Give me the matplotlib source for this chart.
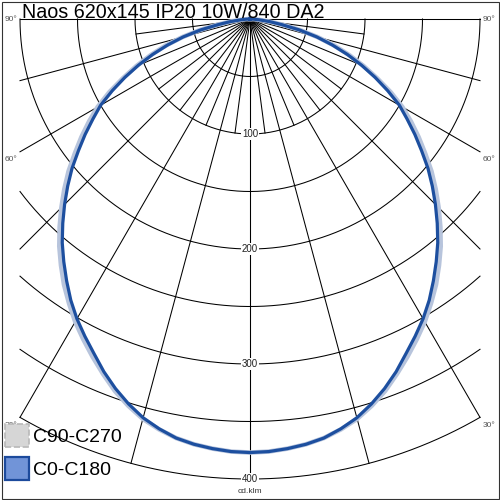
"""Polar luminous intensity diagram (LDC) for Naos 620x145 IP20 10W/840 DA2."""

import numpy as np
import matplotlib
matplotlib.use("Agg")
import matplotlib.pyplot as plt
from matplotlib.patches import Patch, Rectangle

plt.rcParams["font.family"] = ["Liberation Sans", "DejaVu Sans"]

TITLE = "Naos 620x145 IP20 10W/840 DA2"
UNIT = "cd.klm"

# gamma angle from nadir (deg) and intensity (cd/klm)
gamma = [0, 2.5, 5, 7.5, 10, 12.5, 15, 17.5, 20, 22.5, 25, 27.5, 30, 32.5, 35,
         37.5, 40, 42.5, 45, 47.5, 50, 52.5, 55, 57.5, 60, 62.5, 65, 67.5, 70,
         72.5, 75, 77.5, 80, 82.5, 85, 87.5, 90]
c0_c180 = [377, 376.5, 375, 373, 370, 365, 359, 351, 342, 332, 321, 311, 301,
           290, 278, 266, 254, 241, 228, 215, 202, 188, 175, 162, 150, 135, 120,
           105, 90, 75, 60, 44, 28, 17, 8, 3, 0]
c90_c270 = [377, 376.5, 375, 373, 370, 365.5, 360, 352.5, 344, 334, 324, 314,
            304, 293, 282, 270, 258, 245, 232, 219, 206, 192, 179, 166, 153, 138,
            122, 107, 92, 77, 61, 45, 29, 17, 8, 3, 0]

ring_values  = [50, 100, 150, 200, 250, 300, 350, 400]
ring_labels  = [100, 200, 300, 400]
major_angles = [0, 15, 30, 45, 60, 75, 90]
minor_angles = [7.5, 22.5, 37.5, 52.5, 67.5, 82.5]
angle_labels = [90, 60, 30]

R_MAX  = 400      # outer ring
X_HALF = 200      # side limit of the grid (cd/klm)
PX     = 1.15     # pixels per cd/klm

fig = plt.figure(figsize=(5, 5), dpi=100)
ax = fig.add_axes([0, 0, 1, 1])
ax.set_xlim(-250 / PX, 250 / PX)
ax.set_ylim((19 - 500) / PX, 19 / PX)
ax.axis("off")

GRID = dict(color="black", lw=0.75, zorder=1)

# ── rings, clipped to |x| <= 200 ─────────────────────────────────────────────
for R in ring_values:
    gmax = 90.0 if R <= X_HALF else np.degrees(np.arcsin(X_HALF / R))
    t = np.radians(np.linspace(-gmax, gmax, 400))
    ax.plot(R * np.sin(t), -R * np.cos(t), **GRID)

# ── rays ─────────────────────────────────────────────────────────────────────
def ray_end(g):
    s = np.sin(np.radians(abs(g)))
    return R_MAX if s == 0 else min(R_MAX, X_HALF / s)

for g in major_angles:
    for sgn in (-1, 1):
        r = ray_end(g)
        t = np.radians(sgn * g)
        ax.plot([0, r * np.sin(t)], [0, -r * np.cos(t)], **GRID)

for g in minor_angles:
    for sgn in (-1, 1):
        t = np.radians(sgn * g)
        ax.plot([0, 100 * np.sin(t)], [0, -100 * np.cos(t)], **GRID)

# ── labels ───────────────────────────────────────────────────────────────────
for v in ring_labels:
    ax.text(0, -v, str(v), ha="center", va="center", fontsize=7, color="#222222",
            zorder=3, bbox=dict(facecolor="white", edgecolor="none", pad=0.6))
ax.annotate(UNIT, (0, -R_MAX), xytext=(0, -9), textcoords="offset points",
            ha="center", va="center", fontsize=6, color="#333333")

for g in angle_labels:
    r = ray_end(g)
    t = np.radians(g)
    y = -r * np.cos(t)
    dy = 0 if g == 90 else -5.5
    ax.annotate(f"{g}°", (-X_HALF, y), xytext=(-2, dy), textcoords="offset points",
                ha="right", va="center", fontsize=6, color="#555555")
    ax.annotate(f"{g}°", (X_HALF, y), xytext=(2, dy), textcoords="offset points",
                ha="left", va="center", fontsize=6, color="#555555")

# ── curves ───────────────────────────────────────────────────────────────────
g_all = np.radians(np.concatenate([-np.array(gamma[::-1]), np.array(gamma[1:])]))

def full(vals):
    v = np.array(vals, dtype=float)
    return np.concatenate([v[::-1], v[1:]])

r90 = full(c90_c270)
r0 = full(c0_c180)
ax.plot(r90 * np.sin(g_all), -r90 * np.cos(g_all), color="#b7c4dc", lw=3.3,
        zorder=4, solid_joinstyle="round")
ax.plot(r0 * np.sin(g_all), -r0 * np.cos(g_all), color="#1d4f9f", lw=2.3,
        zorder=5, solid_joinstyle="round")

# ── title, legend, frame ─────────────────────────────────────────────────────
fig.text(22 / 500, 1 - 18 / 500, TITLE, ha="left", va="baseline", fontsize=14.2,
         color="black")

handles = [
    Patch(facecolor="#d6d6d6", edgecolor="#b8b8b8", linestyle="--", lw=1.2,
          label="C90-C270"),
    Patch(facecolor="#7194d8", edgecolor="#1c4a9c", lw=1.6, label="C0-C180"),
]
ax.legend(handles=handles, loc="lower left", bbox_to_anchor=(5 / 500, 20 / 500),
          bbox_transform=fig.transFigure, frameon=False, fontsize=14,
          handlelength=1.25, handleheight=1.45, handletextpad=0.2,
          labelspacing=0.5, borderpad=0, borderaxespad=0)

fig.patches.append(Rectangle((1.5 / 500, 1.5 / 500), 497 / 500, 497 / 500,
                             transform=fig.transFigure, fill=False,
                             edgecolor="#333333", lw=0.8))

fig.savefig("out.png", dpi=100)
